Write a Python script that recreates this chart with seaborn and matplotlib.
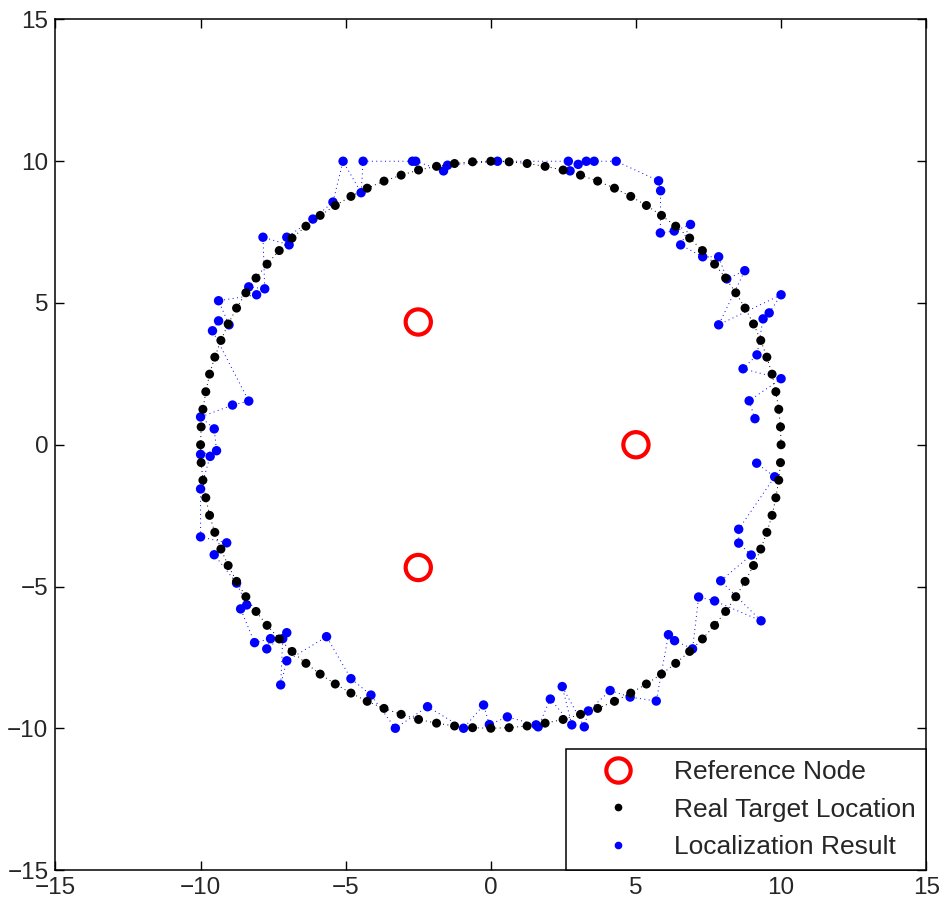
import matplotlib
matplotlib.use("Agg")
import matplotlib.pyplot as plt
from matplotlib.lines import Line2D
import seaborn as sns
import pandas as pd

# Reference nodes
ref_x = [-2.5, 5.0, -2.5]
ref_y = [4.33, 0.0, -4.33]

# Real target locations
real_x = [10.00, 9.98, 9.92, 9.82, 9.69, 9.51, 9.30, 9.05, 8.76, 8.44, 8.09, 7.71, 7.29, 6.85, 6.37, 5.88, 5.36, 4.82, 4.26, 3.68, 3.09, 2.49, 1.87, 1.25, 0.63,
          0.00, -0.63, -1.25, -1.87, -2.49, -3.09, -3.68, -4.26, -4.82, -5.36, -5.88, -6.37, -6.85, -7.29, -7.71, -8.09, -8.44, -8.76, -9.05, -9.30, -9.51, -9.69, -9.82, -9.92, -9.98,
          -10.00, -9.98, -9.92, -9.82, -9.69, -9.51, -9.30, -9.05, -8.76, -8.44, -8.09, -7.71, -7.29, -6.85, -6.37, -5.88, -5.36, -4.82, -4.26, -3.68, -3.09, -2.49, -1.87, -1.25, -0.63,
          0.00, 0.63, 1.25, 1.87, 2.49, 3.09, 3.68, 4.26, 4.82, 5.36, 5.88, 6.37, 6.85, 7.29, 7.71, 8.09, 8.44, 8.76, 9.05, 9.30, 9.51, 9.69, 9.82, 9.92, 9.98]
real_y = [0.00, 0.63, 1.25, 1.87, 2.49, 3.09, 3.68, 4.26, 4.82, 5.36, 5.88, 6.37, 6.85, 7.29, 7.71, 8.09, 8.44, 8.76, 9.05, 9.30, 9.51, 9.69, 9.82, 9.92, 9.98,
          10.00, 9.98, 9.92, 9.82, 9.69, 9.51, 9.30, 9.05, 8.76, 8.44, 8.09, 7.71, 7.29, 6.85, 6.37, 5.88, 5.36, 4.82, 4.26, 3.68, 3.09, 2.49, 1.87, 1.25, 0.63,
          0.00, -0.63, -1.25, -1.87, -2.49, -3.09, -3.68, -4.26, -4.82, -5.36, -5.88, -6.37, -6.85, -7.29, -7.71, -8.09, -8.44, -8.76, -9.05, -9.30, -9.51, -9.69, -9.82, -9.92, -9.98,
          -10.00, -9.98, -9.92, -9.82, -9.69, -9.51, -9.30, -9.05, -8.76, -8.44, -8.09, -7.71, -7.29, -6.85, -6.37, -5.88, -5.36, -4.82, -4.26, -3.68, -3.09, -2.49, -1.87, -1.25, -0.63]

# Localization results
loc_x = [9.10, 8.90, 10.00, 8.69, 9.17, 9.38, 9.59, 10.00, 7.85, 8.75, 8.13, 7.85, 7.30, 6.54, 6.88, 6.32, 5.84, 5.85, 5.78, 4.32, 3.56, 3.29, 3.01, 2.73, 2.67, 0.23,
         -1.49, -1.63, -2.59, -2.70, -4.40, -4.47, -5.09, -5.44, -6.13, -7.03, -6.95, -7.85, -7.79, -8.34, -8.07, -9.38, -9.02, -9.38, -9.59, -8.34, -8.90, -10.00, -9.53,
         -9.45, -10.00, -9.67, -10.00, -10.00, -9.10, -9.53, -8.76, -8.41, -8.62, -8.14, -7.59, -7.72, -7.03, -7.17, -7.24, -7.03, -5.66, -4.82, -4.13, -3.29, -2.18, -0.94, -0.25, -0.05,
         0.57, 1.56, 1.63, 2.05, 2.79, 2.46, 3.22, 3.36, 4.11, 4.80, 5.70, 6.12, 6.33, 6.95, 7.16, 7.71, 9.31, 7.92, 8.97, 8.54, 8.54, 9.78, 9.16]
loc_y = [0.92, 1.55, 2.33, 2.68, 3.17, 4.44, 4.65, 5.29, 4.23, 6.14, 5.85, 6.63, 6.63, 7.05, 7.77, 7.54, 7.47, 8.96, 9.31, 10.00, 10.00, 10.00, 9.89, 9.66, 10.00, 10.00,
         9.86, 9.66, 10.00, 10.00, 10.00, 8.89, 10.00, 8.56, 7.96, 7.32, 7.05, 7.32, 5.50, 5.57, 5.29, 5.08, 4.23, 4.37, 4.02, 1.54, 1.40, 0.98, 0.56,
         -0.21, -0.34, -0.41, -1.56, -3.25, -3.46, -3.88, -4.88, -5.65, -5.79, -6.98, -6.84, -7.20, -6.63, -6.84, -8.47, -7.62, -6.77, -8.25, -8.83, -10.00, -9.24, -10.00, -9.18, -9.87,
         -9.60, -9.88, -9.95, -8.97, -9.88, -8.53, -9.95, -9.39, -8.67, -8.90, -9.04, -6.70, -6.91, -7.20, -5.37, -5.51, -6.21, -4.80, -3.89, -3.47, -2.98, -1.13, -0.65]

labels = ["Reference Node", "Real Target Location", "Localization Result"]
x_ticks = [-15, -10, -5, 0, 5, 10, 15]
y_ticks = [-15, -10, -5, 0, 5, 10, 15]

sns.set_style("white")
plt.rcParams["font.family"] = ["Liberation Sans", "DejaVu Sans"]

fig = plt.figure(figsize=(9.48, 9.11), dpi=100)
ax = fig.add_axes([0.0585, 0.045, 0.9185, 0.9336])

loc_df = pd.DataFrame({"x": loc_x, "y": loc_y})
real_df = pd.DataFrame({"x": real_x, "y": real_y})
ref_df = pd.DataFrame({"x": ref_x, "y": ref_y})

# dotted connecting lines
sns.lineplot(data=loc_df, x="x", y="y", sort=False, estimator=None, ax=ax,
             color="blue", lw=0.7, linestyle=(0, (1, 3.5)), zorder=1)
sns.scatterplot(data=loc_df, x="x", y="y", ax=ax, color="blue", s=46,
                edgecolor="none", zorder=2)
sns.lineplot(data=real_df, x="x", y="y", sort=False, estimator=None, ax=ax,
             color="black", lw=0.7, linestyle=(0, (1, 3.5)), zorder=3)
sns.scatterplot(data=real_df, x="x", y="y", ax=ax, color="black", s=42,
                edgecolor="none", zorder=4)
sns.scatterplot(data=ref_df, x="x", y="y", ax=ax, marker="o", s=330,
                facecolor="none", edgecolor="red", linewidth=3.0, zorder=5)

ax.set_xlim(-15, 15)
ax.set_ylim(-15, 15)
ax.set_xticks(x_ticks)
ax.set_yticks(y_ticks)
ax.set_xlabel("")
ax.set_ylabel("")
ax.tick_params(direction="in", length=6.5, width=1.0, labelsize=17.5,
               top=True, right=True, bottom=True, left=True, color="black", pad=5)
for sp in ax.spines.values():
    sp.set_visible(True)
    sp.set_color("black")
    sp.set_linewidth(1.1)

handles = [
    Line2D([], [], linestyle="none", marker="o", markersize=17.5, markerfacecolor="none",
           markeredgecolor="red", markeredgewidth=3.0),
    Line2D([], [], linestyle="none", marker="o", markersize=4.5, color="black"),
    Line2D([], [], linestyle="none", marker="o", markersize=4.5, color="blue"),
]
leg = ax.legend(handles, labels, loc="lower right", borderaxespad=0, fontsize=19,
                frameon=True, fancybox=False, edgecolor="black", framealpha=1,
                handlelength=3.2, handletextpad=0.5, labelspacing=0.52, borderpad=0.4)
leg.get_frame().set_linewidth(1.1)

fig.savefig("out.png", dpi=100)
